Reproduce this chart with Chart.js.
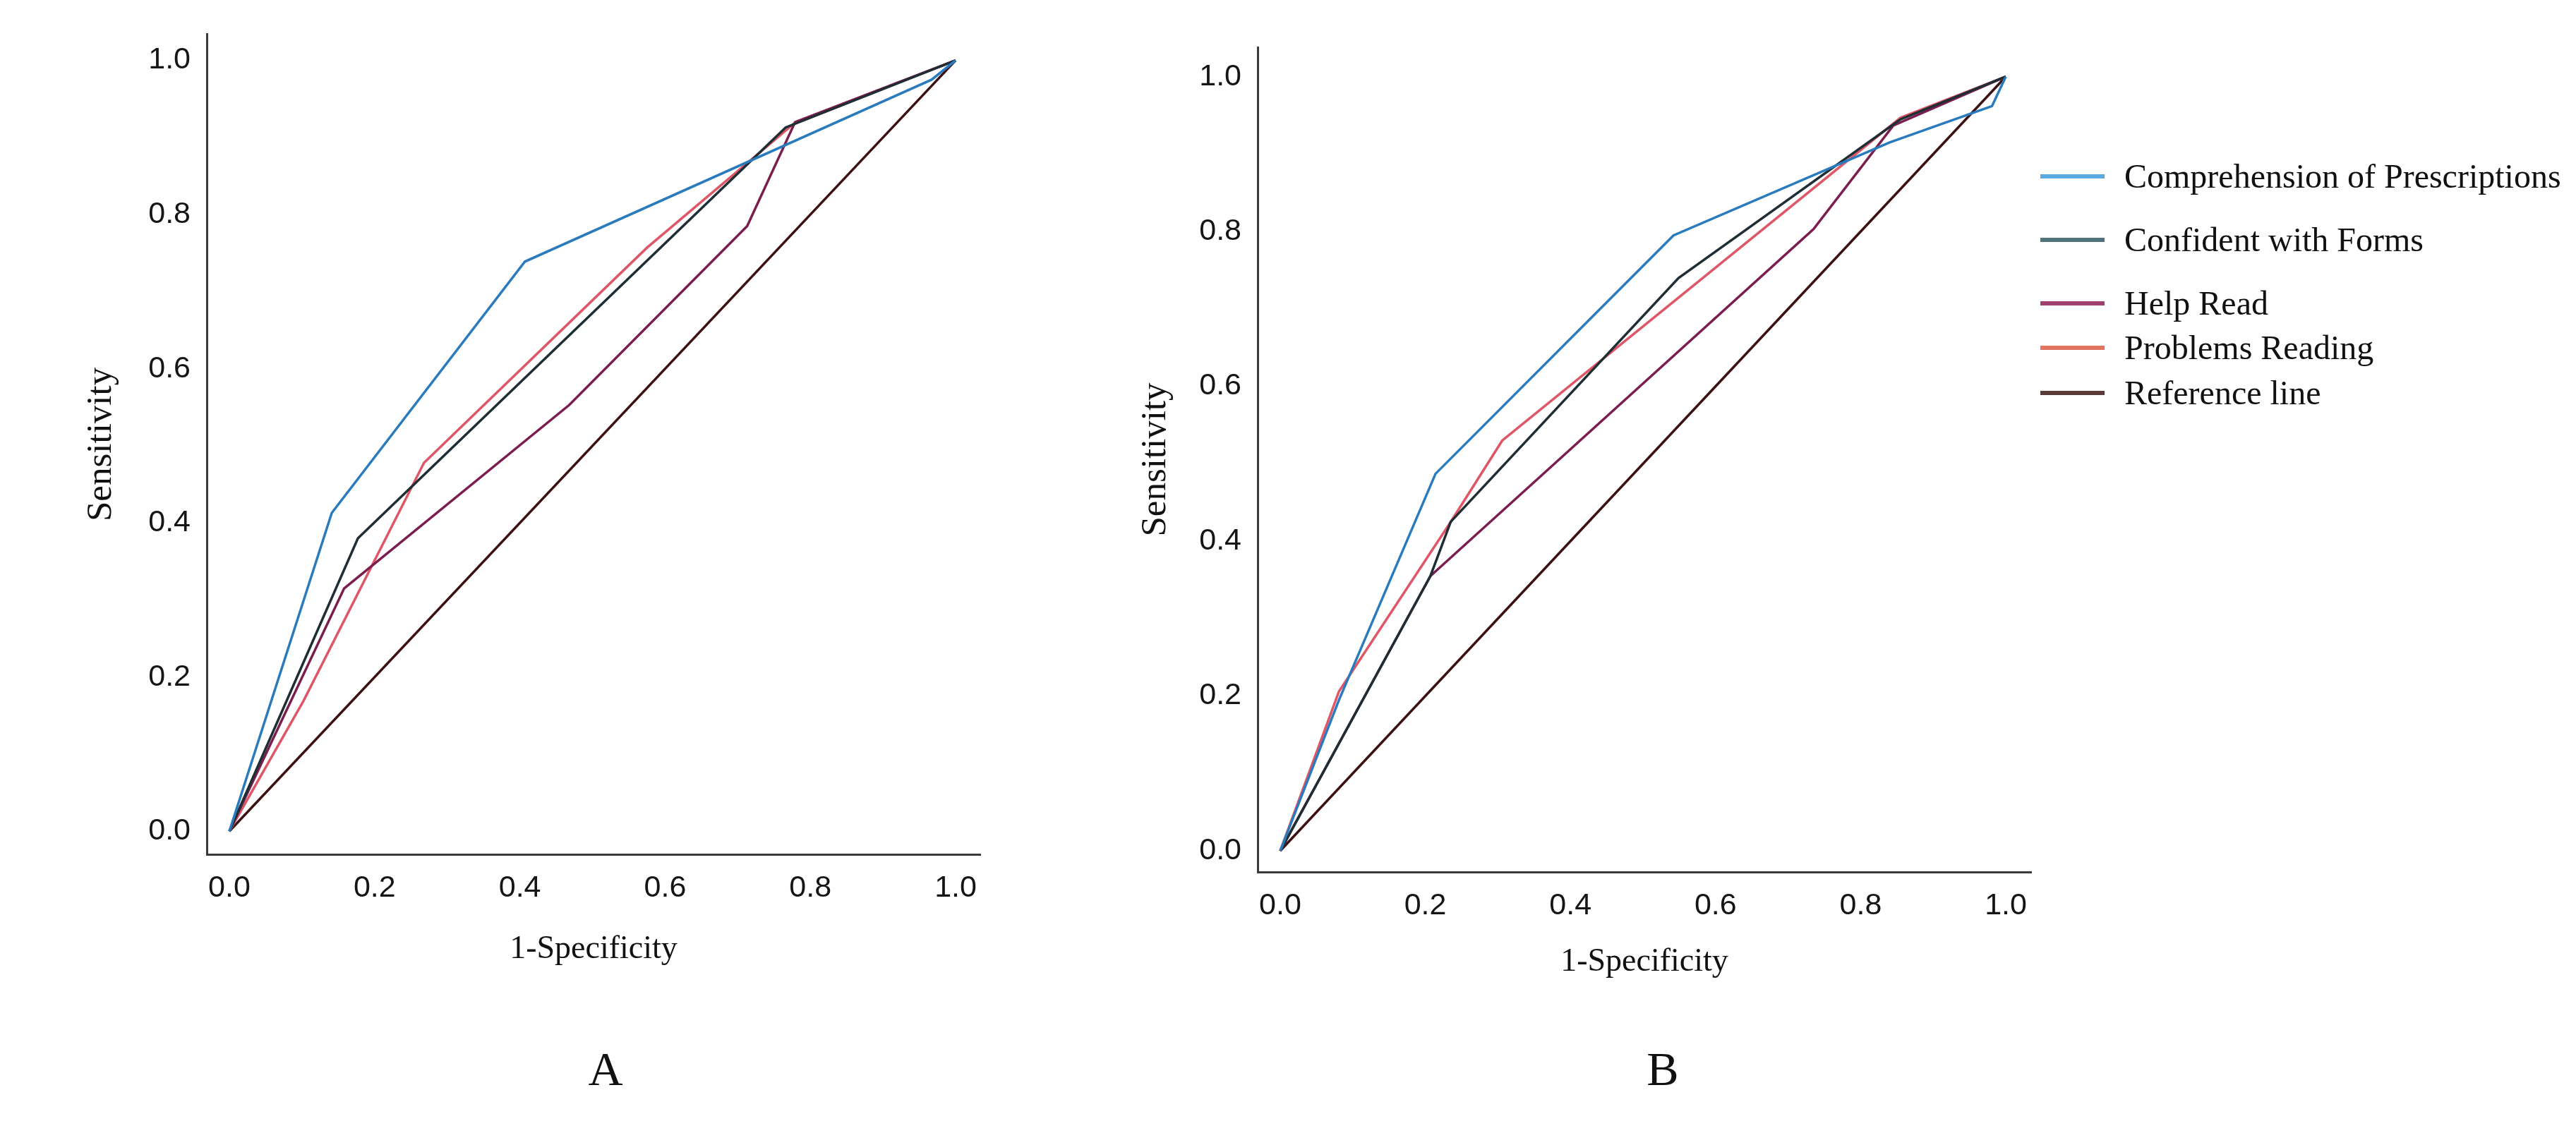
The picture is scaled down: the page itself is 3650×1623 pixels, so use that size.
<!DOCTYPE html>
<html><head><meta charset="utf-8">
<script src="https://cdn.jsdelivr.net/npm/chart.js@4"></script>
<style>
html,body{margin:0;padding:0;background:#fff;width:3650px;height:1623px;overflow:hidden;}
.wrap{position:absolute;}
.panel{position:absolute;font-family:"Liberation Serif","Times New Roman",serif;font-size:68px;color:#111;transform:translate(-50%,-50%);line-height:1;}
.item{position:absolute;left:2891px;display:flex;align-items:center;white-space:nowrap;transform:translateY(-50%);font-family:"Liberation Serif","Times New Roman",serif;font-size:48px;color:#111;line-height:1;}
.sw{width:91px;height:6px;margin-right:28px;}
</style></head><body>
<div class="wrap" style="left:0;top:0;"><canvas id="cA" width="1420" height="1420"></canvas></div>
<div class="wrap" style="left:1500px;top:0;"><canvas id="cB" width="1420" height="1440"></canvas></div>
<div id="legend"></div>
<div class="panel" style="left:858px;top:1515px;">A</div>
<div class="panel" style="left:2356px;top:1515px;">B</div>
<script>
// ---- data ----
const seriesNames = ['Comprehension of Prescriptions','Confident with Forms','Help Read','Problems Reading','Reference line'];
const tickValues = [0, 0.2, 0.4, 0.6, 0.8, 1.0];
const tickLabels = ['0.0','0.2','0.4','0.6','0.8','1.0'];

// Panel A
const A_comp_x = [0, 0.141, 0.407, 0.967, 1];
const A_comp_y = [0, 0.413, 0.739, 0.975, 1];
const A_conf_x = [0, 0.177, 0.766, 1];
const A_conf_y = [0, 0.380, 0.913, 1];
const A_help_x = [0, 0.158, 0.468, 0.713, 0.779, 1];
const A_help_y = [0, 0.315, 0.553, 0.785, 0.920, 1];
const A_prob_x = [0, 0.102, 0.268, 0.575, 0.780, 1];
const A_prob_y = [0, 0.169, 0.478, 0.757, 0.920, 1];
const A_ref_x = [0, 1];
const A_ref_y = [0, 1];

// Panel B
const B_comp_x = [0, 0.081, 0.214, 0.542, 0.840, 0.981, 1];
const B_comp_y = [0, 0.195, 0.487, 0.795, 0.915, 0.962, 1];
const B_conf_x = [0, 0.207, 0.235, 0.549, 0.855, 1];
const B_conf_y = [0, 0.355, 0.425, 0.740, 0.945, 1];
const B_help_x = [0, 0.207, 0.735, 0.845, 1];
const B_help_y = [0, 0.355, 0.803, 0.937, 1];
const B_prob_x = [0, 0.081, 0.235, 0.306, 0.855, 1];
const B_prob_y = [0, 0.206, 0.425, 0.530, 0.947, 1];
const B_ref_x = [0, 1];
const B_ref_y = [0, 1];

// ---- styles ----
const lineColors = ['#2a7bbd', '#1f2e34', '#7b1d4e', '#df5767', '#3d1012'];
const legendColors = ['#5aa9e0', '#4e737b', '#a0406f', '#e2735f', '#5a3b39'];

function makeChart(id, xs, ys, g) {
  const datasets = seriesNames.map((name, i) => ({
    label: name,
    data: xs[i].map((x, j) => ({x: x, y: ys[i][j]})),
    borderColor: lineColors[i],
    backgroundColor: lineColors[i],
    borderWidth: 3.5,
    pointRadius: 0,
    showLine: true,
    fill: false,
    tension: 0
  }));
  const tickFont = {family: '"Liberation Sans", Arial, sans-serif', size: 43};
  return new Chart(document.getElementById(id), {
    type: 'scatter',
    data: {datasets},
    options: {
      responsive: false,
      animation: false,
      layout: {padding: {left: 0, top: g.top, right: g.right, bottom: 0}},
      plugins: {legend: {display: false}, tooltip: {enabled: false}},
      scales: {
        x: {
          type: 'linear', min: g.xmin, max: g.xmax,
          afterBuildTicks: s => { s.ticks = tickValues.map(v => ({value: v})); },
          afterFit: s => { s.height = g.xh; },
          grid: {display: false, drawTicks: false},
          border: {display: true, color: '#3a3a3a', width: 3},
          ticks: {autoSkip: false, maxRotation: 0, padding: 22, color: '#151515', font: tickFont,
                  callback: (v, i) => tickLabels[i]},
          title: {display: true, text: '1-Specificity', color: '#111',
                  font: {family: '"Liberation Serif", "Times New Roman", serif', size: 46},
                  padding: {top: 0, bottom: g.xtpb}}
        },
        y: {
          type: 'linear', min: g.ymin, max: g.ymax,
          afterBuildTicks: s => { s.ticks = tickValues.map(v => ({value: v})); },
          afterFit: s => { s.width = g.yw; },
          grid: {display: false, drawTicks: false},
          border: {display: true, color: '#3a3a3a', width: 3},
          ticks: {autoSkip: false, padding: 23, color: '#151515', font: tickFont,
                  callback: (v, i) => tickLabels[i]},
          title: {display: true, text: 'Sensitivity', color: '#111',
                  font: {family: '"Liberation Serif", "Times New Roman", serif', size: 51},
                  padding: {top: g.ytpt, bottom: 0}}
        }
      }
    }
  });
}

makeChart('cA',
  [A_comp_x, A_conf_x, A_help_x, A_prob_x, A_ref_x],
  [A_comp_y, A_conf_y, A_help_y, A_prob_y, A_ref_y],
  {top: 42, right: 31, xh: 209, yw: 293, xtpb: 46, ytpt: 113,
   xmin: -0.0311, xmax: 1.034, ymin: -0.030, ymax: 1.0337});

makeChart('cB',
  [B_comp_x, B_conf_x, B_help_x, B_prob_x, B_ref_x],
  [B_comp_y, B_conf_y, B_help_y, B_prob_y, B_ref_y],
  {top: 67, right: 42, xh: 204, yw: 282, xtpb: 48, ytpt: 107,
   xmin: -0.0311, xmax: 1.035, ymin: -0.0273, ymax: 1.038});

// ---- legend ----
const legendY = [250, 340, 430, 493, 557];
const lg = document.getElementById('legend');
seriesNames.forEach((name, i) => {
  const d = document.createElement('div');
  d.className = 'item';
  d.style.top = legendY[i] + 'px';
  const sw = document.createElement('span');
  sw.className = 'sw';
  sw.style.background = legendColors[i];
  const t = document.createElement('span');
  t.textContent = name;
  d.appendChild(sw); d.appendChild(t);
  lg.appendChild(d);
});
</script>
</body></html>
